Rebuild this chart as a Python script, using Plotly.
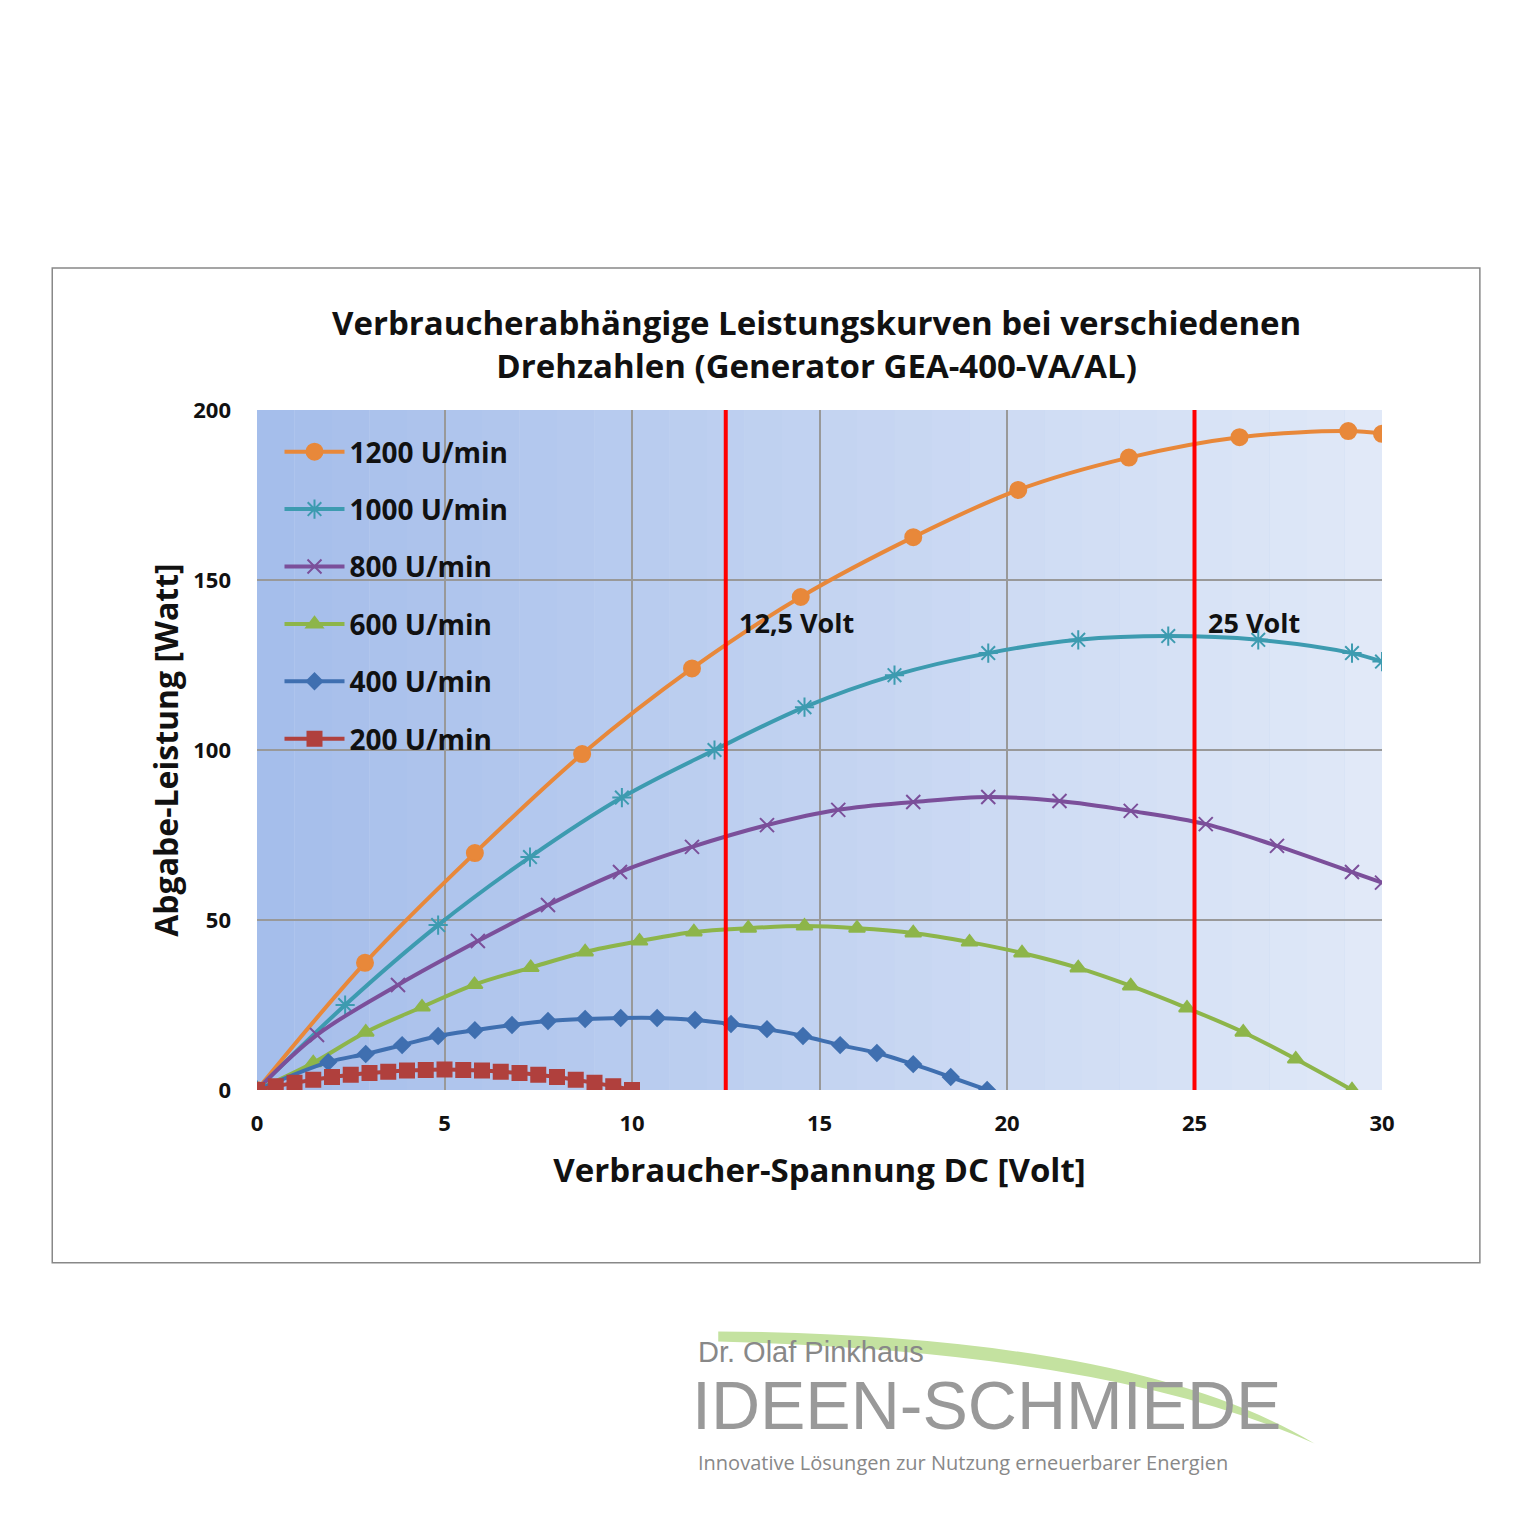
import plotly.graph_objects as go

x1200 = [0, 2.88, 5.81, 8.67, 11.6, 14.5, 17.5, 20.3, 23.25, 26.2, 29.1, 30]
y1200 = [0, 37.4, 69.7, 98.8, 124, 145, 162.6, 176.5, 186, 192, 193.8, 193]
x1000 = [0, 2.35, 4.83, 7.28, 9.73, 12.2, 14.6, 17.0, 19.5, 21.9, 24.3, 26.7, 29.2, 30]
y1000 = [0, 25, 48.5, 68.5, 86, 100, 112.6, 122, 128.5, 132.4, 133.5, 132.4, 128.5, 126]
x800 = [0, 1.6, 3.76, 5.89, 7.76, 9.68, 11.6, 13.6, 15.5, 17.5, 19.5, 21.4, 23.3, 25.3, 27.2, 29.2, 30]
y800 = [0, 16.2, 30.9, 43.8, 54.4, 64.1, 71.5, 77.9, 82.4, 84.7, 86.2, 85, 82.1, 78.2, 71.8, 64.1, 61]
x600 = [0, 1.5, 2.9, 4.4, 5.8, 7.3, 8.75, 10.2, 11.65, 13.1, 14.6, 16, 17.5, 19, 20.4, 21.9, 23.3, 24.8, 26.3, 27.7, 29.2]
y600 = [0, 8, 17, 24.4, 31, 36, 40.6, 43.8, 46.5, 47.6, 48.2, 47.6, 46.2, 43.5, 40.3, 35.9, 30.6, 24.1, 17, 9.1, 0]
x400 = [0, 1.9, 2.9, 3.87, 4.83, 5.81, 6.8, 7.76, 8.75, 9.7, 10.67, 11.68, 12.64, 13.6, 14.56, 15.55, 16.53, 17.5, 18.5, 19.47]
y400 = [0, 8.2, 10.6, 13.2, 15.9, 17.6, 19.1, 20.3, 20.9, 21.2, 21.2, 20.6, 19.4, 17.9, 15.9, 13.2, 10.9, 7.6, 3.8, 0]
x200 = [0, 0.5, 1, 1.5, 2, 2.5, 3, 3.5, 4, 4.5, 5, 5.5, 6, 6.5, 7, 7.5, 8, 8.5, 9, 9.5, 10]
y200 = [0, 1.1, 2.1, 3, 3.8, 4.5, 5, 5.4, 5.7, 5.9, 6, 5.9, 5.7, 5.4, 5, 4.5, 3.8, 3, 2.1, 1.1, 0]
vlines = [12.5, 25]
vlabels = ["12,5 Volt", "25 Volt"]

F = "Open Sans"
fig = go.Figure()
series = [
    ("1200 U/min", x1200, y1200, "#e8883a", "circle", 16),
    ("1000 U/min", x1000, y1000, "#3d9bb0", "asterisk-open", 16),
    ("800 U/min", x800, y800, "#7b4f9a", "x-thin-open", 14),
    ("600 U/min", x600, y600, "#8db54a", "triangle-up", 14),
    ("400 U/min", x400, y400, "#3f6fb0", "diamond", 12),
    ("200 U/min", x200, y200, "#b0403d", "square", 14),
]
for name, xs, ys, c, sym, sz in series:
    fig.add_trace(go.Scatter(x=xs, y=ys, name=f"<b>{name}</b>", legendgroup=name, mode="lines+markers",
                             line=dict(color=c, width=4, shape="spline"),
                             marker=dict(symbol=sym, size=sz, color=c, line=dict(color=c, width=2))))

shapes = []
n = 30
for i in range(n):
    t = i / (n - 1)
    r = int(165 + t * (225 - 165)); g = int(190 + t * (233 - 190)); b = int(235 + t * (248 - 235))
    shapes.append(dict(type="rect", xref="x", yref="y", x0=30 * i / n, x1=30 * (i + 1) / n, y0=0, y1=200,
                       fillcolor=f"rgb({r},{g},{b})", line=dict(width=0), layer="below"))
for v in vlines:
    shapes.append(dict(type="line", xref="x", yref="y", x0=v, x1=v, y0=0, y1=200, line=dict(color="#ff0000", width=4)))
shapes.append(dict(type="rect", xref="paper", yref="paper", x0=-0.182, x1=1.087, y0=-0.254, y1=1.209,
                   line=dict(color="#888", width=1.5)))
shapes.append(dict(type="path", xref="paper", yref="paper", layer="below",
                   path="M 0.41 -0.355 Q 0.78 -0.36 0.94 -0.52 Q 0.76 -0.385 0.41 -0.37 Z",
                   fillcolor="#c4e2a0", line=dict(width=0)))

ann = [
    dict(x=0.497, y=1.097, xref="paper", yref="paper",
         text="<b>Verbraucherabhängige Leistungskurven bei verschiedenen<br>Drehzahlen (Generator GEA-400-VA/AL)</b>",
         showarrow=False, font=dict(family=F, size=33, color="#111"), yanchor="middle"),
]
for v, lab in zip(vlines, vlabels):
    ann.append(dict(x=v + 0.3, y=137.5, xref="x", yref="y", text=f"<b>{lab}</b>", showarrow=False,
                    xanchor="left", font=dict(family=F, size=27, color="#111")))
ann += [
    dict(x=0.39, y=-0.385, xref="paper", yref="paper", text="Dr. Olaf Pinkhaus", showarrow=False, xanchor="left",
         yanchor="middle", font=dict(family="Liberation Sans", size=29, color="#888")),
    dict(x=0.385, y=-0.463, xref="paper", yref="paper", text="IDEEN-SCHMIEDE", showarrow=False, xanchor="left",
         yanchor="middle", font=dict(family="Liberation Sans", size=68, color="#999")),
    dict(x=0.39, y=-0.548, xref="paper", yref="paper", text="Innovative Lösungen zur Nutzung erneuerbarer Energien",
         showarrow=False, xanchor="left", yanchor="middle", font=dict(family=F, size=20, color="#888")),
]

fig.update_layout(
    width=1532, height=1532, paper_bgcolor="white", plot_bgcolor="#c5d5f0",
    margin=dict(l=249, r=158, t=402, b=450),
    shapes=shapes, annotations=ann,
    legend=dict(x=0.02, y=0.975, xanchor="left", yanchor="top", bgcolor="rgba(0,0,0,0)",
                font=dict(family=F, size=28, color="#111"), itemwidth=60, tracegroupgap=18),
    xaxis=dict(range=[0, 30], dtick=5, showgrid=True, gridcolor="#999", gridwidth=1.5, zeroline=False,
               tickfont=dict(family=F, size=22, color="#111"), ticklabelstandoff=18,
               title=dict(text="<b>Verbraucher-Spannung DC [Volt]</b>", font=dict(family=F, size=33, color="#111"), standoff=22)),
    yaxis=dict(range=[0, 200], dtick=50, showgrid=True, gridcolor="#999", gridwidth=1.5, zeroline=False,
               tickfont=dict(family=F, size=22, color="#111"), ticklabelstandoff=25,
               title=dict(text="<b>Abgabe-Leistung [Watt]</b>", font=dict(family=F, size=32, color="#111"), standoff=5)),
)
fig.update_xaxes(tickprefix="<b>", ticksuffix="</b>")
fig.update_yaxes(tickprefix="<b>", ticksuffix="</b>")
fig.write_html("out.html")
